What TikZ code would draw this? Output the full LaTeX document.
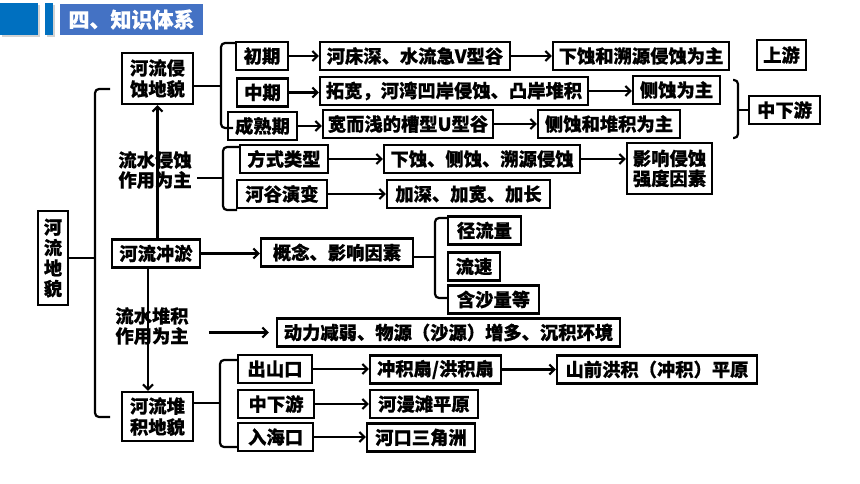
\documentclass[tikz,border=0pt]{standalone}
\usepackage{fontspec}
\newfontfamily\cjk{Noto Sans CJK SC}[BoldFeatures={FakeBold=0.6}]
\usetikzlibrary{arrows.meta}
\definecolor{hdark}{HTML}{0070C0}
\definecolor{hlight}{HTML}{4472C4}
\begin{document}
\begin{tikzpicture}[x=1pt,y=-1pt]
    \tikzset{
        box/.style={draw, line width=2.2pt, inner sep=2pt, minimum height=28pt, align=center,
            font=\cjk\bfseries\fontsize{18.3}{21}\selectfont},
        plain/.style={inner sep=0pt, align=center, font=\cjk\bfseries\fontsize{18.3}{20}\selectfont},
        arr/.style={line width=2.2pt, -{Straight Barb[length=5pt,width=10pt]}},
        brace/.style={line width=2.2pt, rounded corners=4pt},}
    \useasboundingbox (0,0) rectangle (860,484);
    % header
    \fill[gray!35] (2,5) rectangle (40,37);
    \fill[hdark] (0,3) rectangle (38,35);
    \fill[gray!35] (47,5) rectangle (55,37);
    \fill[hdark] (45,3) rectangle (53,35);
    \fill[hlight] (60,4) rectangle (203,35);
    \node[inner sep=0pt, text=white, font=\cjk\bfseries\fontsize{21}{22}\selectfont] (title) at (131.5,19.5) {四、知识体系};
    % erosion
    \node[box, minimum width=71, minimum height=51] (eroLand) at (157.5,78.5) {河流侵\\蚀地貌};
    \node[box, minimum width=52] (early) at (262,56) {初期};
    \node[box, minimum width=51] (mid) at (262.5,92.5) {中期};
    \node[box, minimum width=69] (mature) at (262.5,126) {成熟期};
    \node[box, minimum width=190] (earlyA) at (415,56) {河床深、水流急V型谷};
    \node[box, minimum width=176] (earlyB) at (641,56) {下蚀和溯源侵蚀为主};
    \node[box, minimum width=49, minimum height=30] (upper) at (781.5,55) {上游};
    \node[box, minimum width=268] (midA) at (454,91) {拓宽，河湾凹岸侵蚀、凸岸堆积};
    \node[box, minimum width=87] (midB) at (676.5,90) {侧蚀为主};
    \node[box, minimum width=170] (matA) at (408,124) {宽而浅的槽型U型谷};
    \node[box, minimum width=142] (matB) at (609,124) {侧蚀和堆积为主};
    \node[box, minimum width=71] (lower) at (784.5,110) {中下游};
    \node[plain] (erText) at (155,170) {流水侵蚀\\作用为主};
    \node[box, minimum width=88] (mode) at (284,159) {方式类型};
    \node[box, minimum width=90] (valley) at (282,194) {河谷演变};
    \node[box, minimum width=196] (modeA) at (482,159) {下蚀、侧蚀、溯源侵蚀};
    \node[box, minimum width=163] (valleyA) at (468.5,194) {加深、加宽、加长};
    \node[box, minimum width=85, minimum height=51, font=\cjk\bfseries\fontsize{18.3}{20}\selectfont] (factor) at (669.5,168.5) {影响侵蚀\\强度因素};
    % middle
    \node[box, minimum width=30, minimum height=94, inner xsep=1pt, font=\cjk\bfseries\fontsize{18.3}{20.5}\selectfont] (land) at (53,258) {河\\流\\地\\貌};
    \node[box, minimum width=88] (scour) at (156,253.5) {河流冲淤};
    \node[box, minimum width=152] (concept) at (337,252.5) {概念、影响因素};
    \node[box, minimum width=73] (runoff) at (484.5,230.5) {径流量};
    \node[box, minimum width=52] (speed) at (474,266.5) {流速};
    \node[box, minimum width=91] (sand) at (493.5,299.5) {含沙量等};
    % deposition
    \node[plain] (depText) at (152,326) {流水堆积\\作用为主};
    \node[box, minimum width=343] (cond) at (448.5,332.5) {动力减弱、物源（沙源）增多、沉积环境};
    \node[box, minimum width=71, minimum height=49] (depLand) at (157.5,416.5) {河流堆\\积地貌};
    \node[box, minimum width=74] (outlet) at (275,369) {出山口};
    \node[box, minimum width=76] (lowerB) at (276,404) {中下游};
    \node[box, minimum width=75] (mouth) at (275.5,437) {入海口};
    \node[box, minimum width=131] (fan) at (435.5,369.5) {冲积扇/洪积扇};
    \node[box, minimum width=200] (plain) at (657,369.5) {山前洪积（冲积）平原};
    \node[box, minimum width=108] (flood) at (424,404) {河漫滩平原};
    \node[box, minimum width=108] (delta) at (421,437.5) {河口三角洲};
    % braces
    \draw[brace] (110,89) -- (95,89) -- (95,417) -- (110,417);
    \draw[line width=2.2pt] (land.east) -- ++(27,0);
    \draw[brace] (236,43) -- (221,43) -- (221,128) -- (233,128);
    \draw[line width=2.2pt] ([yshift=-7.5pt]eroLand.east) -- ++(28,0);
    \draw[brace] (240,147) -- (223,147) -- (223,210) -- (237,210);
    \draw[line width=2.2pt] (197,178) -- (223,178);
    \draw[brace] (448,218) -- (435,218) -- (435,298) -- (448,298);
    \draw[line width=2.2pt] ([yshift=-4.5pt]concept.east) -- ++(22,0);
    \draw[brace] (238,360) -- (220,360) -- (220,447) -- (238,447);
    \draw[line width=2.2pt] ([yshift=13.5pt]depLand.east) -- ++(27,0);
    \draw[brace] (733,80) -- (738,80) -- (738,138) -- (733,138);
    \draw[line width=2.2pt] (738,110) -- (lower.west);
    % arrows
    \foreach \a/\b in {early/earlyA, earlyA/earlyB, mid/midA, midA/midB, mature/matA, matA/matB,
        mode/modeA, valley/valleyA, modeA/factor, scour/concept,
        outlet/fan, fan/plain, lowerB/flood, mouth/delta}
        \draw[arr] (\a.east) -- (\a.east -| \b.west);
    \draw[arr] (scour.north -| eroLand.south) -- (eroLand.south);
    \draw[arr] ([xshift=-8pt]scour.south) -- ([xshift=-8pt]scour.south |- depLand.north);
    \draw[arr, shorten <=20pt, shorten >=7pt] (depText.east |- cond.west) -- (cond.west);
\end{tikzpicture}
\end{document}
